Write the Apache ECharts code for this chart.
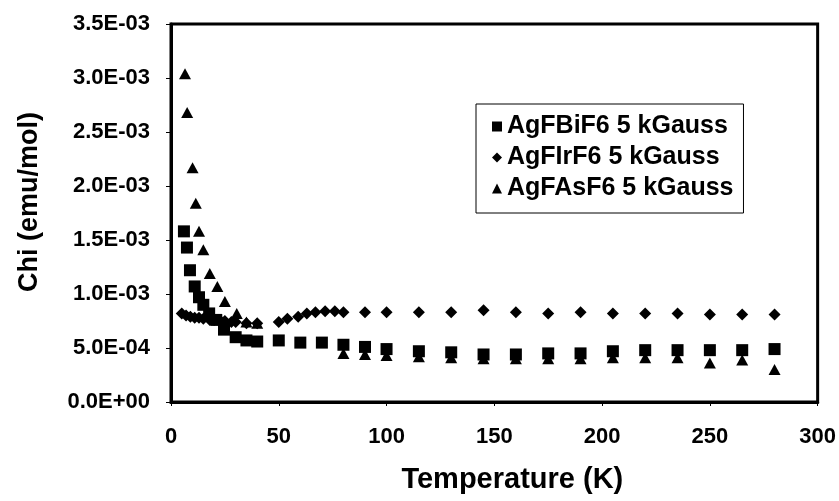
<!DOCTYPE html>
<html>
<head>
<meta charset="utf-8">
<script src="https://cdn.jsdelivr.net/npm/echarts@6/dist/echarts.min.js"></script>
<style>
html,body{margin:0;padding:0;background:#fff;}
#chart{width:839px;height:501px;}
</style>
</head>
<body>
<div id="chart"></div>
<script>
// AgFBiF6 (squares)
var tBi = [6, 7.4, 8.8, 11, 13, 15, 17.7, 21, 24.6, 30, 35, 40, 50, 60, 70, 80, 90, 100, 115, 130, 145, 160, 175, 190, 205, 220, 235, 250, 265, 280];
var chiBi = [1.58e-3, 1.43e-3, 1.22e-3, 1.07e-3, 0.97e-3, 0.90e-3, 0.82e-3, 0.76e-3, 0.67e-3, 0.60e-3, 0.57e-3, 0.56e-3, 0.57e-3, 0.55e-3, 0.55e-3, 0.53e-3, 0.51e-3, 0.49e-3, 0.47e-3, 0.46e-3, 0.44e-3, 0.44e-3, 0.45e-3, 0.45e-3, 0.47e-3, 0.48e-3, 0.48e-3, 0.48e-3, 0.48e-3, 0.49e-3];
// AgFIrF6 (diamonds)
var tIr = [5, 7, 9, 11, 13, 15, 18, 20, 23, 25, 28, 30, 35, 40, 50, 54, 59, 63, 67, 71.5, 76, 80, 90, 100, 115, 130, 145, 160, 175, 190, 205, 220, 235, 250, 265, 280];
var chiIr = [0.82e-3, 0.80e-3, 0.79e-3, 0.78e-3, 0.78e-3, 0.77e-3, 0.76e-3, 0.76e-3, 0.75e-3, 0.75e-3, 0.74e-3, 0.74e-3, 0.73e-3, 0.73e-3, 0.74e-3, 0.77e-3, 0.79e-3, 0.82e-3, 0.83e-3, 0.84e-3, 0.84e-3, 0.83e-3, 0.83e-3, 0.83e-3, 0.83e-3, 0.83e-3, 0.85e-3, 0.83e-3, 0.82e-3, 0.83e-3, 0.82e-3, 0.82e-3, 0.82e-3, 0.81e-3, 0.81e-3, 0.81e-3];
// AgFAsF6 (triangles)
var tAs = [6.5, 7.5, 10, 11.5, 13, 15, 18, 21.5, 25, 30.5, 35, 40, 80, 90, 100, 115, 130, 145, 160, 175, 190, 205, 220, 235, 250, 265, 280];
var chiAs = [3.04e-3, 2.68e-3, 2.17e-3, 1.84e-3, 1.58e-3, 1.41e-3, 1.19e-3, 1.07e-3, 0.93e-3, 0.82e-3, 0.74e-3, 0.73e-3, 0.45e-3, 0.44e-3, 0.43e-3, 0.42e-3, 0.41e-3, 0.40e-3, 0.40e-3, 0.40e-3, 0.40e-3, 0.41e-3, 0.41e-3, 0.41e-3, 0.36e-3, 0.39e-3, 0.30e-3];

var seriesNames = ['AgFBiF6 5 kGauss', 'AgFIrF6 5 kGauss', 'AgFAsF6 5 kGauss'];
var yTickLabels = ['0.0E+00', '5.0E-04', '1.0E-03', '1.5E-03', '2.0E-03', '2.5E-03', '3.0E-03', '3.5E-03'];
var xTickLabels = ['0', '50', '100', '150', '200', '250', '300'];

function pairs(xs, ys) { return xs.map(function (x, i) { return [x, ys[i]]; }); }

var FONT = '"Liberation Sans", Arial, sans-serif';
var chart = echarts.init(document.getElementById('chart'), null, { renderer: 'canvas' });
chart.setOption({
  animation: false,
  backgroundColor: '#fff',
  grid: { left: 171, right: 21, top: 24, bottom: 99, show: true, borderColor: '#000', borderWidth: 3, containLabel: false },
  xAxis: {
    type: 'value', min: 0, max: 300, interval: 50,
    name: 'Temperature (K)', nameLocation: 'middle', nameGap: 63,
    nameTextStyle: { fontFamily: FONT, fontWeight: 'bold', fontSize: 29, color: '#000', padding: [0, 0, 0, 36] },
    axisLine: { show: true, lineStyle: { color: '#000', width: 3 } },
    axisTick: { show: true, length: 4, lineStyle: { color: '#000', width: 1 } },
    axisLabel: { margin: 24, fontFamily: FONT, fontWeight: 'bold', fontSize: 22, color: '#000',
      formatter: function (v) { return xTickLabels[Math.round(v / 50)]; } },
    splitLine: { show: false }
  },
  yAxis: {
    type: 'value', min: 0, max: 0.0035, interval: 0.0005,
    name: 'Chi (emu/mol)', nameLocation: 'middle', nameGap: 128, nameRotate: 90,
    nameTextStyle: { fontFamily: FONT, fontWeight: 'bold', fontSize: 27, color: '#000', padding: [0, 0, 0, 22] },
    axisLine: { show: true, lineStyle: { color: '#000', width: 3 } },
    axisTick: { show: true, length: 5, lineStyle: { color: '#000', width: 1 } },
    axisLabel: { margin: 21, fontFamily: FONT, fontWeight: 'bold', fontSize: 22, color: '#000',
      formatter: function (v) { return yTickLabels[Math.round(v / 0.0005)]; } },
    splitLine: { show: false }
  },
  legend: {
    orient: 'vertical', left: 476, top: 104,
    data: [
      { name: seriesNames[0], icon: 'rect' },
      { name: seriesNames[1], icon: 'diamond' },
      { name: seriesNames[2], icon: 'triangle' }
    ],
    itemWidth: 10, itemHeight: 10, itemGap: 6,
    padding: [10, 10, 12, 16],
    borderColor: '#000', borderWidth: 1,
    textStyle: { fontFamily: FONT, fontWeight: 'bold', fontSize: 25, color: '#000' }
  },
  series: [
    { name: seriesNames[0], type: 'scatter', symbol: 'rect', symbolSize: 12,
      itemStyle: { color: '#000', opacity: 1 }, data: pairs(tBi, chiBi), z: 3 },
    { name: seriesNames[1], type: 'scatter', symbol: 'diamond', symbolSize: [12, 12],
      itemStyle: { color: '#000', opacity: 1 }, data: pairs(tIr, chiIr), z: 2 },
    { name: seriesNames[2], type: 'scatter', symbol: 'triangle', symbolSize: [12, 11],
      itemStyle: { color: '#000', opacity: 1 }, data: pairs(tAs, chiAs), z: 4 }
  ]
});
</script>
</body>
</html>
